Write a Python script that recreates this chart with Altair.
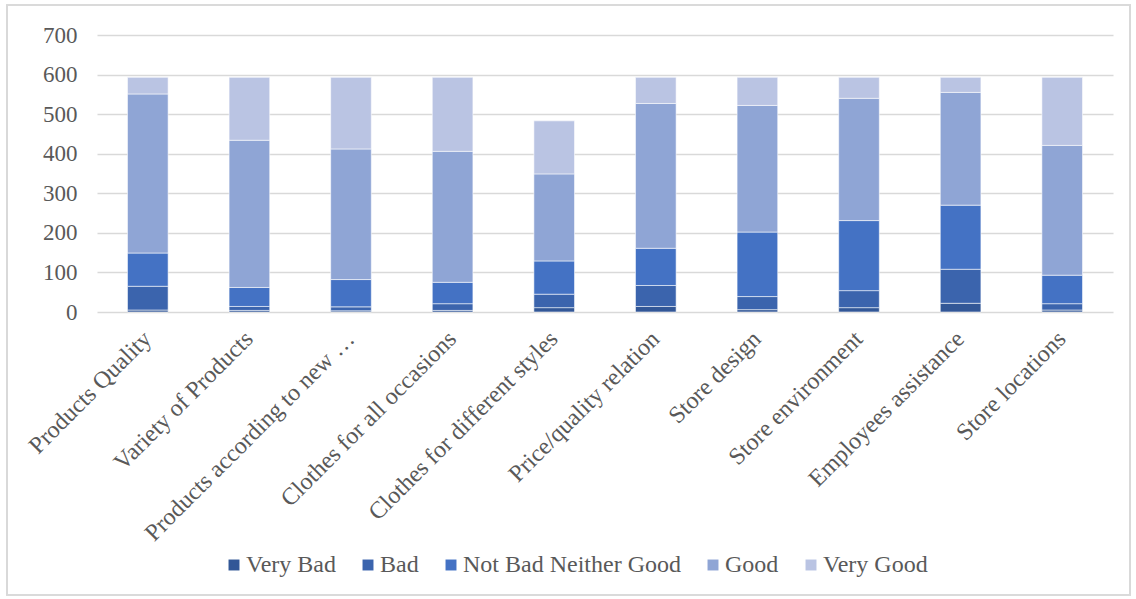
import altair as alt
import pandas as pd

categories = [
    "Products Quality",
    "Variety of Products",
    "Products according to new …",
    "Clothes for all occasions",
    "Clothes for different styles",
    "Price/quality relation",
    "Store design",
    "Store environment",
    "Employees assistance",
    "Store locations",
]
levels = ["Very Bad", "Bad", "Not Bad Neither Good", "Good", "Very Good"]

very_bad = [5, 4, 3, 4, 11, 14, 6, 11, 22, 5]
bad = [60, 10, 10, 17, 34, 53, 33, 43, 86, 16]
not_bad_neither_good = [84, 48, 69, 54, 84, 94, 163, 177, 162, 72]
good = [402, 372, 330, 331, 220, 366, 320, 309, 285, 328]
very_good = [42, 159, 181, 187, 134, 66, 71, 53, 38, 172]

colors = ["#325797", "#3B64AD", "#4472C4", "#8FA5D5", "#BAC4E3"]
y_ticks = [0, 100, 200, 300, 400, 500, 600, 700]

series = [very_bad, bad, not_bad_neither_good, good, very_good]
rows = []
for li, (lvl, vals) in enumerate(zip(levels, series)):
    for c, v in zip(categories, vals):
        rows.append({"item": c, "level": lvl, "order": li, "value": v})
df = pd.DataFrame(rows)

FONT = "Liberation Serif"
TXT = "#595959"

bars = alt.Chart(df).mark_bar(stroke="#FFFFFF", strokeWidth=0.8, strokeOpacity=0.7).encode(
    x=alt.X(
        "item:N",
        sort=categories,
        title=None,
        scale=alt.Scale(paddingInner=0.6, paddingOuter=0.3),
        axis=alt.Axis(
            labelAngle=-45,
            labelAlign="right",
            labelBaseline="middle",
            labelPadding=23,
            labelFontSize=24,
            labelFont=FONT,
            labelColor=TXT,
            labelLimit=500,
            ticks=False,
            domain=False,
            grid=False,
        ),
    ),
    y=alt.Y(
        "value:Q",
        stack="zero",
        title=None,
        scale=alt.Scale(domain=[0, 700], nice=False),
        axis=alt.Axis(
            values=y_ticks,
            labelFontSize=23,
            labelFont=FONT,
            labelColor=TXT,
            labelPadding=20,
            ticks=False,
            tickSize=0,
            domain=False,
            grid=True,
            gridColor="#D9D9D9",
            gridWidth=1.5,
        ),
    ),
    color=alt.Color(
        "level:N",
        sort=levels,
        scale=alt.Scale(domain=levels, range=colors),
        legend=alt.Legend(
            title=None,
            orient="none",
            legendX=125,
            legendY=518,
            direction="horizontal",
            symbolType="square",
            symbolSize=120,
            symbolStrokeWidth=0,
            labelFontSize=24,
            labelFont=FONT,
            labelColor=TXT,
            labelOffset=0,
            columnPadding=20,
            labelLimit=400,
        ),
    ),
    order=alt.Order("order:Q", sort="ascending"),
)

border = alt.Chart(df).mark_rect(fill=None, stroke="#D9D9D9", strokeWidth=1.2).encode(
    x=alt.value(-90), x2=alt.value(1033), y=alt.value(-30), y2=alt.value(560)
)

chart = alt.layer(border, bars).properties(
    width=1016,
    height=277,
    autosize=alt.AutoSizeParams(type="none"),
    padding={"left": 97, "top": 35, "right": 23, "bottom": 287},
    background="#FFFFFF",
).configure_view(stroke=None)

chart.save("out.html", embed_options={"renderer": "svg", "actions": False})
